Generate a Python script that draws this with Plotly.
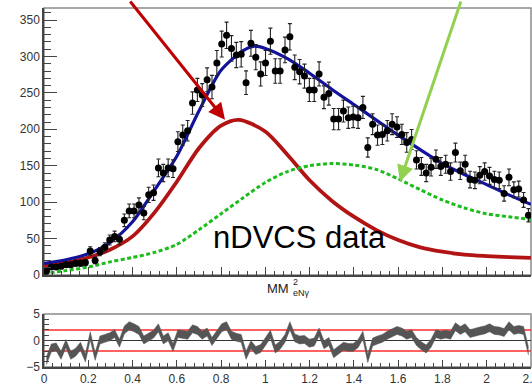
import numpy as np
import plotly.graph_objects as go

# ---------------- data ----------------
# 100 bins of width 0.022 on MM^2_eNgamma in [0, 2.2]
x_lo, x_hi, n_bins = 0.0, 2.2, 100

counts = [5, 11, 11, 12, 14, 14, 16, 16, 17, 33,
          20, 32, 38, 48, 53, 49, 75, 88, 88, 96,
          85, 110, 113, 147, 140, 147, 146, 183, 192, 198,
          236, 254, 247, 268, 258, 291, 317, 329, 311, 302,
          303, 264, 318, 299, 276, 291, 321, 280, 280, 309,
          327, 285, 279, 273, 254, 254, 276, 244, 249, 214,
          214, 225, 216, 217, 216, 230, 175, 207, 192, 193,
          198, 207, 203, 193, 182, 186, 158, 149, 140, 148,
          159, 149, 152, 142, 168, 143, 152, 131, 130, 137,
          142, 136, 131, 130, 112, 134, 117, 118, 103, 82]

# normalised residuals (data - fit) / sigma per bin
residuals = [-3.8, -1.4, -1.2, -2.8, -0.6, -2.8, -2.2, -1.1, -3.3, 0.9,
             -3.0, 0.1, 0.4, 0.7, 1.3, -0.5, 2.0, 2.8, 2.4, 1.9,
             0.1, 0.7, 1.2, 2.4, 0.1, 0.7, -1.3, 1.3, 1.1, 1.0,
             2.2, 1.9, 1.0, 1.6, -0.2, 1.0, 2.4, 2.8, 1.0, 0.6,
             0.4, -2.8, -0.8, -1.9, -1.5, -0.2, 1.2, -1.6, -0.9, 0.4,
             2.8, 0.5, 0.1, 0.2, -0.5, -0.3, 1.6, -0.8, -0.2, -2.5,
             -1.8, -1.1, -1.3, -1.3, -0.6, 1.0, -3.4, -0.3, 0.1, 0.4,
             1.0, 1.5, 1.9, 1.6, 1.0, 1.3, -0.2, -1.0, -1.6, -0.5,
             1.3, 1.0, 1.2, 1.0, 2.6, 1.9, 2.4, 1.3, 1.6, 1.8,
             2.0, 2.4, 1.9, 1.8, 1.5, 2.8, 1.9, 2.1, 1.9, -2.0]
resid_halfwidth = 0.75

# fit components
total_x = [0, 0.1, 0.2, 0.3, 0.4, 0.5, 0.6, 0.7, 0.8, 0.9, 0.95, 1.0, 1.1, 1.2,
           1.3, 1.4, 1.5, 1.6, 1.7, 1.8, 1.9, 2.0, 2.1, 2.2]
total_y = [16, 21, 29, 45, 73, 117, 163, 225, 281, 308, 314, 311, 297, 277,
           255, 234, 213, 192, 172, 153, 138, 124, 110, 97]

signal_x = [0, 0.1, 0.2, 0.3, 0.4, 0.5, 0.6, 0.7, 0.8, 0.88, 1.0, 1.1, 1.2,
            1.3, 1.4, 1.5, 1.6, 1.7, 1.8, 1.9, 2.0, 2.1, 2.2]
signal_y = [13, 17, 24, 35, 53, 86, 128, 174, 205, 213, 197, 165, 130,
            102, 80, 62, 48, 38, 32, 28, 26, 24.5, 23.5]

bkg_x = [0, 0.1, 0.2, 0.3, 0.4, 0.5, 0.6, 0.7, 0.8, 0.9, 1.0, 1.1, 1.2,
         1.3, 1.4, 1.5, 1.6, 1.7, 1.8, 1.9, 2.0, 2.1, 2.2]
bkg_y = [2, 6, 11, 18, 24, 31, 42, 62, 84, 106, 127, 142, 150,
         153, 151, 145, 132, 117, 103, 92, 84, 80, 76]

x_ticks = [0, 0.2, 0.4, 0.6, 0.8, 1, 1.2, 1.4, 1.6, 1.8, 2, 2.2]
x_tick_text = ["0", "0.2", "0.4", "0.6", "0.8", "1", "1.2", "1.4", "1.6", "1.8", "2", "2.2"]

# ---------------- derived ----------------
width = (x_hi - x_lo) / n_bins
centers = x_lo + (np.arange(n_bins) + 0.5) * width
counts_arr = np.array(counts, dtype=float)
errors = np.sqrt(counts_arr)
res = np.array(residuals)

AX = "#444444"
FRAME = "#8a8a8a"
FONT = "Liberation Sans, Arial, Helvetica, sans-serif"
x_range = [x_lo, x_hi + 0.0005]

fig = go.Figure()

# signal (red), background (green dotted), total fit (blue)
fig.add_trace(go.Scatter(x=signal_x, y=signal_y, mode="lines",
                         line=dict(color="#b21414", width=3.8, shape="spline", smoothing=0.8),
                         xaxis="x", yaxis="y", hoverinfo="skip"))
fig.add_trace(go.Scatter(x=bkg_x, y=bkg_y, mode="lines",
                         line=dict(color="#1cbc1c", width=3, dash="4px,2.5px",
                                   shape="spline", smoothing=0.8),
                         xaxis="x", yaxis="y", hoverinfo="skip"))
fig.add_trace(go.Scatter(x=total_x, y=total_y, mode="lines",
                         line=dict(color="#12129c", width=3.2, shape="spline", smoothing=0.8),
                         xaxis="x", yaxis="y", hoverinfo="skip"))

# data points with Poisson errors
fig.add_trace(go.Scatter(x=centers, y=counts_arr, mode="markers",
                         marker=dict(color="black", size=7),
                         error_y=dict(type="data", array=errors, color="#222222",
                                      thickness=1.1, width=2),
                         xaxis="x", yaxis="y", hoverinfo="skip"))

# residual band
fig.add_trace(go.Scatter(x=centers, y=res - resid_halfwidth, mode="lines",
                         line=dict(color="#555555", width=0.5),
                         xaxis="x2", yaxis="y2", hoverinfo="skip"))
fig.add_trace(go.Scatter(x=centers, y=res + resid_halfwidth, mode="lines",
                         line=dict(color="#555555", width=0.5),
                         fill="tonexty", fillcolor="#555555",
                         xaxis="x2", yaxis="y2", hoverinfo="skip"))

# panel layout (plot area spans 8..367 px from the top)
main_dom = [0.2563, 1.0]
low_dom = [0.0, 0.1476]

common_x = dict(range=x_range, tickmode="array", tickvals=x_ticks,
                ticktext=x_tick_text, automargin=False,
                ticks="inside", tickcolor=AX, tickwidth=1,
                minor=dict(dtick=0.04, tick0=0, ticks="inside", ticklen=4,
                           tickcolor=AX, tickwidth=1),
                showline=True, linecolor=AX, linewidth=1.5,
                showgrid=False, zeroline=False)

fig.update_layout(
    width=532, height=385,
    margin=dict(l=44, r=1, t=8, b=18, autoexpand=False),
    paper_bgcolor="white", plot_bgcolor="white",
    showlegend=False,
    font=dict(family=FONT),
    xaxis=dict(domain=[0, 1], anchor="y", showticklabels=False, ticklen=8, **common_x),
    yaxis=dict(domain=main_dom, anchor="x", range=[0, 366.5], automargin=False,
               dtick=50, tick0=0, ticks="inside", ticklen=13, tickcolor=AX,
               minor=dict(dtick=10, ticks="inside", ticklen=7, tickcolor=AX),
               showline=True, linecolor=AX, linewidth=1.5,
               showgrid=False, zeroline=False,
               tickfont=dict(family=FONT, size=12, color="#333333")),
    xaxis2=dict(domain=[0, 1], anchor="y2", ticklen=7, ticklabeloverflow="allow",
                tickfont=dict(family=FONT, size=12, color="#333333"), **common_x),
    yaxis2=dict(domain=low_dom, anchor="x2", range=[-5, 5], automargin=False,
                tickvals=[-5, 0, 5], ticks="inside", ticklen=12, tickcolor=AX,
                minor=dict(dtick=1, ticks="inside", ticklen=5, tickcolor=AX),
                showline=True, linecolor=AX, linewidth=1.5,
                showgrid=False, zeroline=True, zerolinecolor="#333333",
                zerolinewidth=1.2,
                tickfont=dict(family=FONT, size=12, color="#333333")),
)

shapes = [
    # panel frames
    dict(type="rect", xref="x domain", yref="y domain", x0=0, x1=1, y0=0, y1=1,
         line=dict(color=FRAME, width=1.5), layer="below"),
    dict(type="rect", xref="x2 domain", yref="y2 domain", x0=0, x1=1, y0=0, y1=1,
         line=dict(color=FRAME, width=1.5), layer="below"),
    # +-2 sigma guide lines
    dict(type="line", xref="x2 domain", yref="y2", x0=0, x1=1, y0=2, y1=2,
         line=dict(color="#ff2b2b", width=1.5), layer="below"),
    dict(type="line", xref="x2 domain", yref="y2", x0=0, x1=1, y0=-2, y1=-2,
         line=dict(color="#ff2b2b", width=1.5), layer="below"),
]
fig.update_layout(shapes=shapes)

annotations = [
    # arrows pointing at the two fit components
    dict(x=0.818, y=213, xref="x", yref="y", text="", showarrow=True,
         ax=-96, ay=-136, arrowcolor="#c00000", arrowwidth=3,
         arrowhead=2, arrowsize=1.1, standoff=0),
    dict(x=1.608, y=128, xref="x", yref="y", text="", showarrow=True,
         ax=61.5, ay=-192, arrowcolor="#92d050", arrowwidth=3,
         arrowhead=2, arrowsize=1.1, standoff=0),
    # label
    dict(x=0.5246, y=0.3621, xref="paper", yref="paper", text="nDVCS data",
         showarrow=False, xanchor="center", yanchor="middle",
         font=dict(family=FONT, size=31, color="black")),
    # x-axis title MM^2_eNgamma
    dict(x=0.5072, y=0.220, xref="paper", yref="paper", text="MM",
         showarrow=False, xanchor="right", yanchor="middle",
         font=dict(family=FONT, size=13, color="#222222")),
    dict(x=0.5072, y=0.2368, xref="paper", yref="paper", text="2",
         showarrow=False, xanchor="left", yanchor="middle",
         font=dict(family=FONT, size=9, color="#222222")),
    dict(x=0.5072, y=0.2060, xref="paper", yref="paper", text="eNγ",
         showarrow=False, xanchor="left", yanchor="middle",
         font=dict(family=FONT, size=9, color="#222222")),
]
fig.update_layout(annotations=annotations)

fig.write_html("out.html", config={"displayModeBar": False})
